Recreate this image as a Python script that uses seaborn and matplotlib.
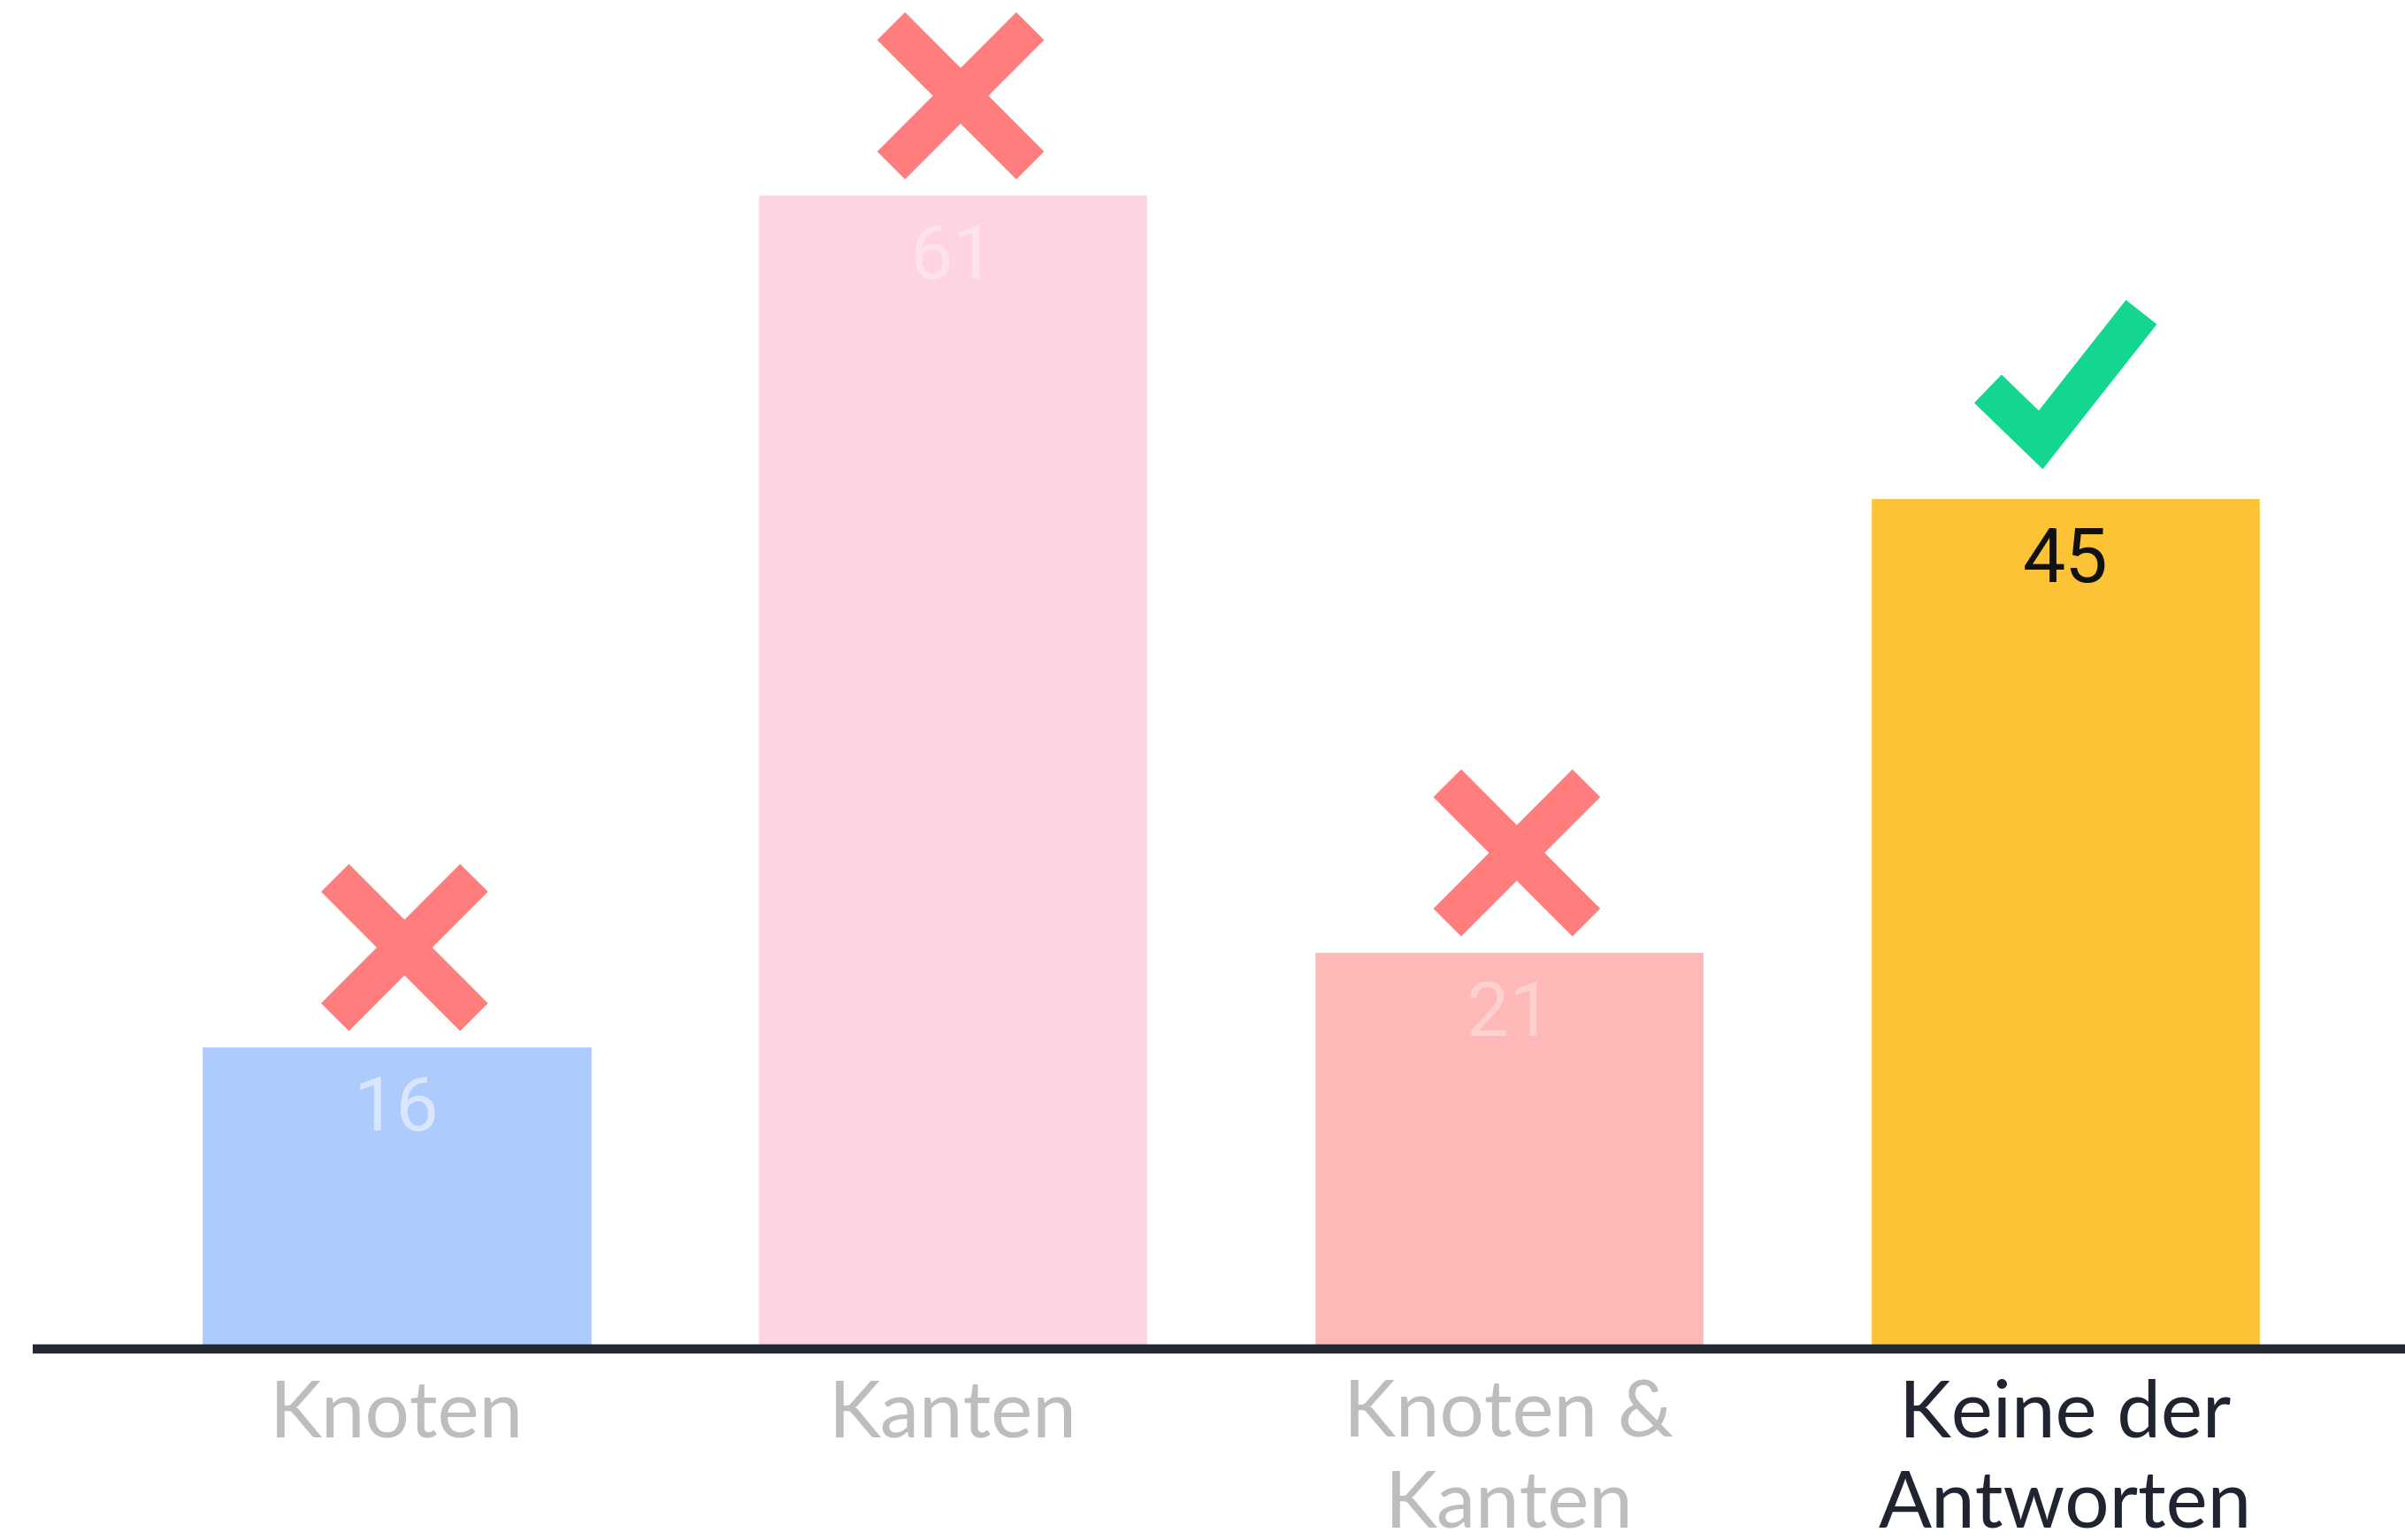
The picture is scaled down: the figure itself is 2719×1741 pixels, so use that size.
import matplotlib
matplotlib.use('Agg')
import matplotlib.pyplot as plt
from matplotlib.font_manager import FontProperties
import seaborn as sns
import pandas as pd

# answer options and vote counts
categories = ['Knoten', 'Kanten', 'Knoten &\nKanten', 'Keine der\nAntworten']
votes = [16, 61, 21, 45]
correct = [False, False, False, True]

bar_colors = ['#ADCBFC', '#FED3E2', '#FFB8B8', '#FDC336']
label_colors = ['#BDBDBD', '#BDBDBD', '#BDBDBD', '#1F2430']
value_colors = ['#D9E6FE', '#FEE3EC', '#FFD0D0', '#111111']
wrong_color = '#FF7D7D'
right_color = '#13D68F'

sns.set_style('white')
plt.rcParams['font.family'] = ['Lato', 'DejaVu Sans']

df = pd.DataFrame({'answer': categories, 'votes': votes})

fig = plt.figure(figsize=(27.19, 17.41), dpi=100)
ax = fig.add_axes([37 / 2719, 0.1238, 1 - 37 / 2719, 0.8762])

sns.barplot(data=df, x='answer', y='votes', hue='answer', palette=bar_colors,
            width=0.7, legend=False, saturation=1, ax=ax)

ax.set_xlim(-0.6545, 3.611)
ax.set_ylim(0, 71.29)

# value labels inside the bars
value_font = FontProperties(family='Roboto', size=62)
for i, v in enumerate(votes):
    ax.text(i, v - 1.45, str(v), ha='center', va='top', fontproperties=value_font,
            color=value_colors[i], zorder=5)

# cross / check mark above each bar
lw = 32
for i, (v, ok) in enumerate(zip(votes, correct)):
    if ok:
        xs = [i - 0.139, i - 0.044, i + 0.137]
        ys = [v + 5.75, v + 3.05, v + 9.80]
        ax.plot(xs, ys, color=right_color, lw=lw, solid_capstyle='butt',
                solid_joinstyle='miter', clip_on=False, zorder=4)
    else:
        cx, cy = i + 0.014, v + 5.23
        dx, dy = 0.125, 3.68
        ax.plot([cx - dx, cx + dx], [cy + dy, cy - dy], color=wrong_color, lw=lw,
                solid_capstyle='butt', clip_on=False, zorder=4)
        ax.plot([cx - dx, cx + dx], [cy - dy, cy + dy], color=wrong_color, lw=lw,
                solid_capstyle='butt', clip_on=False, zorder=4)

ax.set_xlabel('')
ax.set_ylabel('')
ax.set_yticks([])
ax.set_xticks(range(len(categories)))
ax.set_xticklabels(categories, fontsize=64, linespacing=1.3)
for lbl, c in zip(ax.get_xticklabels(), label_colors):
    lbl.set_color(c)
ax.tick_params(axis='x', length=0, pad=24)

for side in ['top', 'left', 'right']:
    ax.spines[side].set_visible(False)
ax.spines['bottom'].set_color('#242936')
ax.spines['bottom'].set_linewidth(7.5)
ax.spines['bottom'].set_capstyle('butt')
ax.spines['bottom'].set_zorder(3)

fig.savefig('out.png', dpi=100, facecolor='white')
plt.close(fig)
